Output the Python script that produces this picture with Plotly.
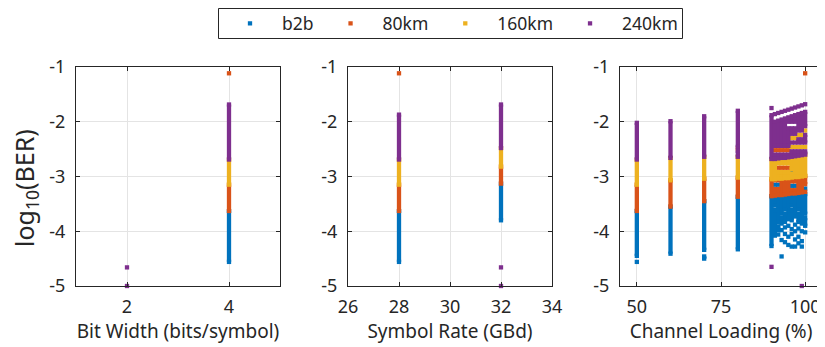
import plotly.graph_objects as go

# ---------------- data (log10 BER), segments are (x, y_top, y_bottom) ----------------
series_names = ["b2b", "80km", "160km", "240km"]
series_colors = ["#0072BD", "#D95319", "#EDB120", "#7E2F8E"]

# Panel 1: Bit Width
bw_b2b_seg = [(4, -3.63, -4.56)]
bw_b2b_pts = []
bw_80_seg = [(4, -3.15, -3.63)]
bw_80_pts = [(4, -1.115)]
bw_160_seg = [(4, -2.69, -3.15)]
bw_160_pts = []
bw_240_seg = [(4, -1.685, -2.69)]
bw_240_pts = [(2, -4.66), (2, -5.0)]

# Panel 2: Symbol Rate
sr_b2b_seg = [(28, -3.63, -4.56), (32, -3.13, -3.80)]
sr_b2b_pts = []
sr_80_seg = [(28, -3.15, -3.63), (32, -2.82, -3.13)]
sr_80_pts = [(28, -1.115)]
sr_160_seg = [(28, -2.69, -3.15), (32, -2.48, -2.82)]
sr_160_pts = []
sr_240_seg = [(28, -1.87, -2.69), (32, -1.685, -2.48)]
sr_240_pts = [(32, -4.66), (32, -5.0)]

# Panel 3: Channel Loading
cl_b2b_seg = [(50, -3.63, -4.45), (60, -3.55, -4.41), (70, -3.45, -4.34), (70, -4.46, -4.50),
              (80, -3.37, -4.33),
              (90, -3.36, -4.27), (91, -3.35, -3.53), (91, -3.61, -4.08), (92, -3.34, -3.83),
              (92, -3.91, -3.98), (93, -3.34, -3.68), (93, -3.76, -3.86), (94, -3.33, -3.60),
              (94, -3.68, -3.83), (95, -3.32, -3.78), (96, -3.31, -3.53), (96, -3.61, -3.80),
              (97, -3.31, -3.73), (98, -3.30, -3.60), (98, -3.68, -3.83), (99, -3.29, -3.86),
              (100, -3.32, -3.68), (100, -3.76, -3.90)]
cl_b2b_pts = [(50, -4.56), (91, -3.15), (92, -3.15), (96, -3.17), (97, -3.17), (100, -3.22),
              (96, -2.91), (92, -4.06), (93, -3.98), (93, -4.16), (93, -4.46), (94, -3.93),
              (94, -4.05), (94, -4.20), (95, -3.90), (95, -4.10), (95, -4.25), (96, -3.96),
              (96, -4.05), (96, -4.28), (97, -3.88), (97, -4.00), (97, -4.15), (97, -4.28),
              (98, -3.95), (98, -4.10), (98, -4.22), (99, -4.00), (99, -4.18), (99, -4.28),
              (100, -4.02)]
cl_80_seg = [(50, -3.15, -3.63), (60, -3.07, -3.55), (70, -3.04, -3.45), (80, -3.02, -3.37),
             (90, -3.05, -3.36), (91, -3.05, -3.07), (91, -3.23, -3.35), (92, -3.04, -3.07),
             (92, -3.23, -3.34), (93, -3.04, -3.34), (94, -3.03, -3.33), (95, -3.03, -3.32),
             (96, -3.02, -3.09), (96, -3.25, -3.31), (97, -3.01, -3.09), (97, -3.25, -3.31),
             (98, -3.01, -3.30), (99, -3.00, -3.29), (100, -2.99, -3.14)]
cl_80_pts = [(80, -2.49), (91, -2.52), (92, -2.52), (93, -2.52), (94, -2.52), (95, -2.52),
             (92, -2.84), (93, -2.84), (94, -2.84), (95, -2.84), (100, -3.28), (100, -1.115)]
cl_160_seg = [(50, -2.69, -3.15), (60, -2.66, -3.07), (70, -2.64, -3.04), (80, -2.64, -3.02),
              (90, -2.68, -3.05), (91, -2.68, -3.05), (92, -2.67, -2.76), (92, -2.92, -3.04),
              (93, -2.66, -2.76), (93, -2.92, -3.04), (94, -2.66, -2.76), (94, -2.92, -3.03),
              (95, -2.65, -2.76), (95, -2.92, -3.03), (96, -2.64, -2.87), (96, -2.95, -3.02),
              (97, -2.63, -3.01), (98, -2.62, -3.01), (99, -2.61, -3.00), (100, -2.60, -2.99)]
cl_160_pts = [(96, -2.30), (97, -2.30), (98, -2.24), (99, -2.24), (100, -2.16),
              (96, -2.46), (97, -2.46), (98, -2.46), (99, -2.46), (100, -2.46)]
cl_240_seg = [(50, -2.02, -2.69), (60, -1.99, -2.66), (70, -1.90, -2.64), (80, -1.80, -2.46),
              (80, -2.53, -2.64),
              (90, -1.88, -2.68), (91, -2.00, -2.44), (91, -2.60, -2.68), (92, -1.98, -2.44),
              (92, -2.60, -2.67), (93, -1.96, -2.44), (93, -2.60, -2.66), (94, -1.94, -2.44),
              (94, -2.60, -2.66), (95, -1.92, -2.00), (95, -2.12, -2.44), (95, -2.60, -2.65),
              (96, -1.90, -2.00), (96, -2.12, -2.22), (96, -2.54, -2.64), (97, -1.88, -2.00),
              (97, -2.12, -2.22), (97, -2.54, -2.63), (98, -1.86, -2.16), (98, -2.32, -2.38),
              (98, -2.54, -2.62), (99, -1.84, -2.16), (99, -2.32, -2.38), (99, -2.54, -2.61),
              (100, -1.82, -2.08), (100, -2.24, -2.38), (100, -2.54, -2.60)]
cl_240_pts = [(90, -1.75), (91, -1.86), (92, -1.84), (93, -1.82), (94, -1.80), (95, -1.78),
              (96, -1.76), (97, -1.74), (98, -1.72), (99, -1.70), (100, -1.68),
              (96, -2.38), (97, -2.38), (90, -4.65), (99, -5.0)]

y_ticks = [-5, -4, -3, -2, -1]
y_ticklabels = ["-5", "-4", "-3", "-2", "-1"]
bw_ticks = [2, 4]
sr_ticks = [26, 28, 30, 32, 34]
cl_ticks = [50, 75, 100]

panels = [
    ([(bw_b2b_seg, bw_b2b_pts), (bw_80_seg, bw_80_pts), (bw_160_seg, bw_160_pts), (bw_240_seg, bw_240_pts)], "x", "y"),
    ([(sr_b2b_seg, sr_b2b_pts), (sr_80_seg, sr_80_pts), (sr_160_seg, sr_160_pts), (sr_240_seg, sr_240_pts)], "x2", "y2"),
    ([(cl_b2b_seg, cl_b2b_pts), (cl_80_seg, cl_80_pts), (cl_160_seg, cl_160_pts), (cl_240_seg, cl_240_pts)], "x3", "y3"),
]

# page body has an 8px margin -> the figure is offset by 8px in the window
OFF = 8
W, H = 825 - OFF, 347 - OFF
MS = 4.3
TXT = "#262626"
FONT = "Noto Sans"


def px_x(p):
    return (p - OFF) / W


def px_y(p):
    return 1 - (p - OFF) / H


fig = go.Figure()
for pi, (ser, xa, ya) in enumerate(panels):
    for si, (segs, pts) in enumerate(ser):
        col = series_colors[si]
        lx, ly = [], []
        for x, a, b in segs:
            lx += [x, x, None]
            ly += [a, b, None]
        mx, my = [], []
        for x, a, b in segs:
            mx += [x, x]
            my += [a, b]
        for x, v in pts:
            mx.append(x)
            my.append(v)
        fig.add_trace(go.Scatter(x=lx, y=ly, mode="lines", xaxis=xa, yaxis=ya,
                                 line=dict(color=col, width=MS), showlegend=False,
                                 hoverinfo="skip", legendgroup=series_names[si]))
        fig.add_trace(go.Scatter(x=mx, y=my, mode="markers", xaxis=xa, yaxis=ya,
                                 marker=dict(symbol="square", size=MS, color=col),
                                 name=series_names[si], legendgroup=series_names[si],
                                 showlegend=(pi == 0), cliponaxis=False))

axis_common = dict(showline=True, linecolor=TXT, linewidth=1, mirror="ticks",
                   ticks="inside", ticklen=4, tickcolor=TXT, showgrid=True,
                   gridcolor="#e4e4e4", gridwidth=1, zeroline=False, automargin=False,
                   tickfont=dict(family=FONT, size=18, color=TXT))
ydom = [px_y(286), px_y(67)]
xdoms = [[px_x(76), px_x(280)], [px_x(348), px_x(552)], [px_x(620), px_x(822)]]
xranges = [[1, 5], [26, 34], [45, 105]]
xticks = [bw_ticks, sr_ticks, cl_ticks]
xtitles = ["Bit Width (bits/symbol)", "Symbol Rate (GBd)", "Channel Loading (%)"]

lay = {}
for i in range(3):
    sfx = "" if i == 0 else str(i + 1)
    lay["xaxis" + sfx] = dict(axis_common, domain=xdoms[i], range=xranges[i],
                              tickvals=xticks[i], anchor="y" + sfx, ticklabelstandoff=4,
                              title=dict(text=xtitles[i], standoff=1,
                                         font=dict(family=FONT, size=19, color=TXT)))
    lay["yaxis" + sfx] = dict(axis_common, domain=ydom, range=[-5, -1], ticklabelstandoff=6,
                              tickvals=y_ticks, ticktext=y_ticklabels, anchor="x" + sfx)

fig.update_layout(
    width=W, height=H, autosize=False,
    margin=dict(l=0, r=0, t=0, b=0, autoexpand=False),
    paper_bgcolor="white", plot_bgcolor="white",
    font=dict(family=FONT, color=TXT),
    legend=dict(orientation="h", x=px_x(218), xanchor="left", y=px_y(23.5), yanchor="middle",
                borderwidth=0, bgcolor="rgba(0,0,0,0)", itemwidth=54,
                font=dict(family=FONT, size=17.5, color=TXT)),
    shapes=[dict(type="rect", xref="paper", yref="paper",
                 x0=px_x(218.5), x1=px_x(682.5), y0=px_y(38.5), y1=px_y(8.5),
                 line=dict(color=TXT, width=1), fillcolor="rgba(0,0,0,0)", layer="above")],
    annotations=[dict(text="log<sub>10</sub>(BER)", textangle=-90, xref="paper", yref="paper",
                      x=px_x(25), y=px_y(188), xanchor="center", yanchor="middle",
                      showarrow=False, font=dict(family=FONT, size=25, color=TXT))],
    **lay,
)

fig.write_html("out.html")
